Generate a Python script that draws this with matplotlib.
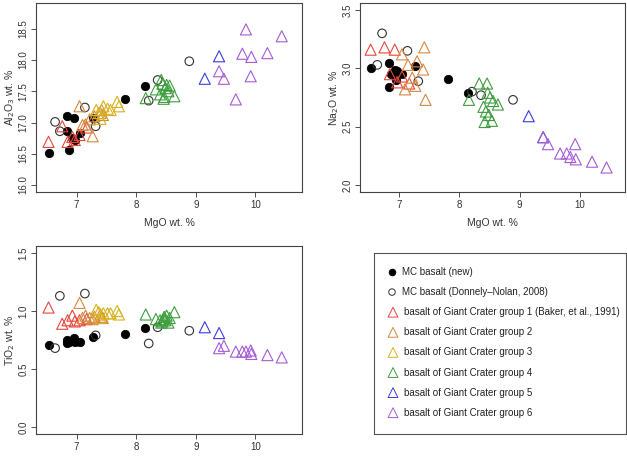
import numpy as np
import matplotlib
matplotlib.use("Agg")
import matplotlib.pyplot as plt

plt.rcParams['font.family'] = ['Liberation Sans', 'DejaVu Sans']

# MC basalt (new)
mc_new_mgo = [6.53, 6.84, 6.84, 6.87, 6.93, 6.95, 6.97, 7.05, 7.27, 7.82, 8.15]
mc_new_al = [16.52, 17.11, 16.86, 16.56, 16.76, 17.07, 16.72, 16.83, 17.08, 17.37, 17.59]
mc_new_na = [3.00, 3.05, 2.84, 2.95, 2.99, 2.90, 2.98, 2.95, 3.02, 2.91, 2.79]
mc_new_ti = [0.71, 0.75, 0.72, 0.73, 0.74, 0.77, 0.73, 0.73, 0.78, 0.80, 0.85]

# MC basalt (Donnely-Nolan, 2008)
mc_dn_mgo = [6.64, 6.72, 7.14, 7.32, 8.21, 8.36, 8.89]
mc_dn_al = [17.01, 16.86, 17.24, 16.94, 17.35, 17.68, 17.98]
mc_dn_na = [3.03, 3.30, 3.15, 2.89, 2.80, 2.77, 2.73]
mc_dn_ti = [0.68, 1.13, 1.15, 0.79, 0.72, 0.86, 0.83]

# Giant Crater groups 1-6
g1_mgo = [6.53, 6.76, 6.85, 6.93, 6.97, 7.05, 7.17]
g1_al = [16.69, 16.94, 16.69, 16.77, 16.72, 16.80, 16.92]
g1_na = [3.16, 3.18, 2.95, 3.16, 2.88, 2.93, 2.87]
g1_ti = [1.03, 0.89, 0.92, 0.96, 0.91, 0.92, 0.93]

g2_mgo = [7.05, 7.10, 7.15, 7.22, 7.27, 7.30, 7.40, 7.42, 7.44]
g2_al = [17.26, 16.96, 16.97, 17.05, 16.78, 17.10, 17.15, 17.20, 17.12]
g2_na = [3.12, 2.82, 3.03, 2.92, 2.85, 3.06, 2.99, 3.18, 2.73]
g2_ti = [1.07, 0.94, 0.96, 0.94, 0.93, 0.95, 0.97, 0.95, 0.94]

g3_mgo = [7.33, 7.37, 7.40, 7.45, 7.52, 7.57, 7.68, 7.71]
g3_al = [17.20, 17.15, 17.06, 17.26, 17.22, 17.20, 17.33, 17.26]
g3_na = [np.nan] * 8
g3_ti = [1.01, 0.99, 0.94, 0.98, 0.98, 0.98, 1.00, 0.97]

g4_mgo = [8.16, 8.33, 8.40, 8.42, 8.44, 8.46, 8.47, 8.49, 8.51, 8.54, 8.56, 8.64]
g4_al = [17.39, 17.53, 17.45, 17.68, 17.62, 17.38, 17.41, 17.55, 17.60, 17.50, 17.59, 17.42]
g4_na = [2.73, 2.87, 2.67, 2.54, 2.63, 2.87, 2.79, 2.60, 2.75, 2.55, 2.72, 2.69]
g4_ti = [0.97, 0.93, 0.92, 0.90, 0.91, 0.93, 0.95, 0.92, 0.96, 0.90, 0.94, 0.99]

g5_mgo = [9.15, 9.39]
g5_al = [17.70, 18.06]
g5_na = [2.59, 2.41]
g5_ti = [0.86, 0.81]

g6_mgo = [9.39, 9.47, 9.67, 9.78, 9.84, 9.92, 9.93, 10.20, 10.44]
g6_al = [17.82, 17.70, 17.37, 18.10, 18.49, 17.74, 18.05, 18.11, 18.38]
g6_na = [2.41, 2.35, 2.27, 2.27, 2.24, 2.35, 2.22, 2.20, 2.15]
g6_ti = [0.68, 0.70, 0.65, 0.65, 0.65, 0.66, 0.63, 0.62, 0.60]

gc_colors = ["#E8453C", "#D8873F", "#D8B21E", "#3E9E3E", "#3B3BE0", "#A55BD6"]
legend_labels = ["MC basalt (new)", "MC basalt (Donnely\u2013Nolan, 2008)",
                 "basalt of Giant Crater group 1 (Baker, et al., 1991)",
                 "basalt of Giant Crater group 2", "basalt of Giant Crater group 3",
                 "basalt of Giant Crater group 4", "basalt of Giant Crater group 5",
                 "basalt of Giant Crater group 6"]

groups_mgo = [g1_mgo, g2_mgo, g3_mgo, g4_mgo, g5_mgo, g6_mgo]
groups_al = [g1_al, g2_al, g3_al, g4_al, g5_al, g6_al]
groups_na = [g1_na, g2_na, g3_na, g4_na, g5_na, g6_na]
groups_ti = [g1_ti, g2_ti, g3_ti, g4_ti, g5_ti, g6_ti]

W, H = 627, 462
fig = plt.figure(figsize=(W / 100, H / 100), dpi=100)
fig.patch.set_facecolor("white")


def px_axes(x0, y0, x1, y1):
    return fig.add_axes([x0 / W, 1 - y1 / H, (x1 - x0) / W, (y1 - y0) / H])


def style(ax, xlim, ylim, yticks, ylabel, xlabel=True):
    ax.set_xlim(*xlim)
    ax.set_ylim(*ylim)
    ax.set_xticks([7, 8, 9, 10])
    ax.set_yticks(yticks)
    ax.set_yticklabels(["%.1f" % t for t in yticks], rotation=90, va="center")
    ax.tick_params(direction="out", length=3.5, width=0.6, labelsize=7,
                   colors="#333333", pad=2)
    for s in ax.spines.values():
        s.set_linewidth(0.8)
        s.set_color("#444444")
    if xlabel:
        ax.set_xlabel("MgO wt. %", fontsize=7.5, color="#333333", labelpad=6)
    ax.set_ylabel(ylabel, fontsize=7.5, color="#333333", labelpad=1)


def draw(ax, ys_new, ys_dn, ys_groups):
    ax.scatter(mc_new_mgo, ys_new, s=36, c="black", edgecolors="black", linewidths=0.6, zorder=3)
    ax.scatter(mc_dn_mgo, ys_dn, s=38, facecolors="none", edgecolors="#333333", linewidths=0.8, zorder=3)
    for mg, yv, col in zip(groups_mgo, ys_groups, gc_colors):
        ax.scatter(mg, yv, s=64, marker="^", facecolors="none", edgecolors=col,
                   linewidths=0.8, zorder=3)


ax1 = px_axes(36, 3, 302, 192)
draw(ax1, mc_new_al, mc_dn_al, groups_al)
style(ax1, (6.32, 10.78), (15.888, 18.912), [16.0, 16.5, 17.0, 17.5, 18.0, 18.5],
      "Al$_2$O$_3$ wt. %")

ax2 = px_axes(360, 3, 625, 192)
draw(ax2, mc_new_na, mc_dn_na, groups_na)
style(ax2, (6.354, 10.746), (1.94, 3.56), [2.0, 2.5, 3.0, 3.5], "Na$_2$O wt. %")

ax3 = px_axes(36, 246, 302, 434)
draw(ax3, mc_new_ti, mc_dn_ti, groups_ti)
style(ax3, (6.32, 10.78), (-0.06, 1.56), [0.0, 0.5, 1.0, 1.5], "TiO$_2$ wt. %", xlabel=False)

# legend box
axl = px_axes(374, 253, 626, 434)
axl.set_xlim(0, 252)
axl.set_ylim(181, 0)
axl.set_xticks([])
axl.set_yticks([])
for s in axl.spines.values():
    s.set_linewidth(0.8)
    s.set_color("#555555")
styles = [dict(marker="o", s=22, facecolors="black", edgecolors="black"),
          dict(marker="o", s=22, facecolors="none", edgecolors="#333333")]
styles += [dict(marker="^", s=50, facecolors="none", edgecolors=c) for c in gc_colors]
for i, (lab, st) in enumerate(zip(legend_labels, styles)):
    yy = 19 + i * 20.1
    xm = 18 if i < 2 else 19
    axl.scatter([xm], [yy], linewidths=0.7, clip_on=False, **st)
    axl.text(xm + 10 if i < 2 else xm + 11, yy, lab, fontsize=7, va="center",
             color="#222222")

fig.savefig("out.png", dpi=100, facecolor="white")
